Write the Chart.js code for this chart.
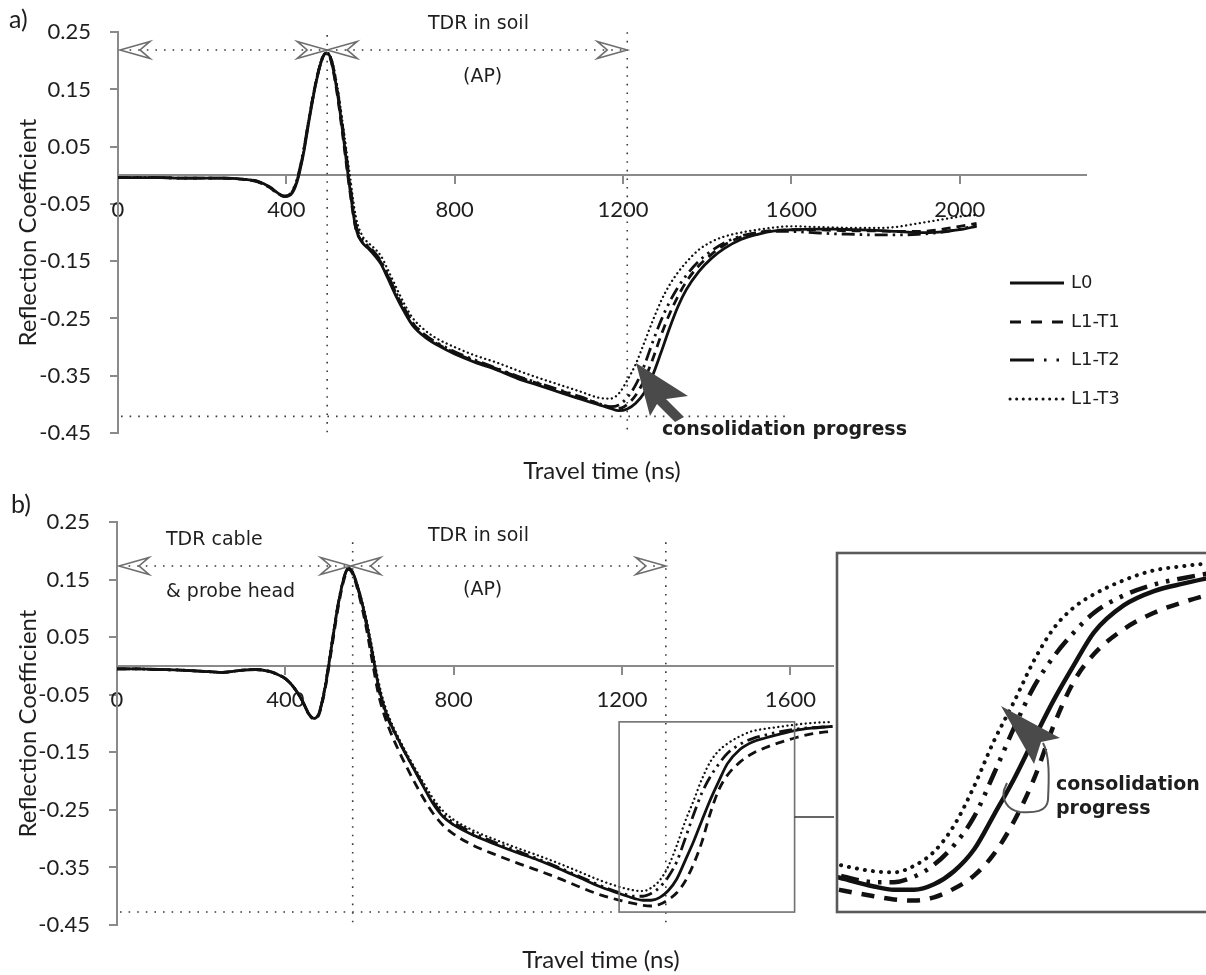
<!DOCTYPE html>
<html>
<head>
<meta charset="utf-8">
<script src="https://cdn.jsdelivr.net/npm/chart.js@4.4.1/dist/chart.umd.min.js"></script>
<style>
    html, body { margin: 0; padding: 0; background: #fff; overflow: hidden; }
    body { width: 1206px; height: 975px; position: relative; }
    canvas { position: absolute; }
    #chartA { left: 0; top: 0; }
    #chartB { left: 0; top: 490px; }
    #inset { left: 834px; top: 550px; }
</style>
</head>
<body>
<canvas id="chartA" width="1206" height="490"></canvas>
<canvas id="chartB" width="1206" height="485"></canvas>
<canvas id="inset" width="423" height="365"></canvas>
<script>
// ---- data ----
const seriesNames = ["L0", "L1-T1", "L1-T2", "L1-T3"];
const xTicks = [0, 400, 800, 1200, 1600, 2000];
const yTicks = [-0.45, -0.35, -0.25, -0.15, -0.05, 0.05, 0.15, 0.25];

// a) travel time (ns)
const timeA = [0, 50, 100, 150, 200, 250, 300, 330, 360, 380, 395, 410, 425, 440, 455, 470, 485,
    495, 505, 520, 535, 550, 565, 580, 595, 610, 625, 640, 660, 680, 700, 730, 760, 800, 850, 900, 950,
    1000, 1050, 1100, 1140, 1170, 1190, 1210, 1230, 1250, 1270, 1290, 1310, 1330, 1350, 1380, 1410, 1440,
    1480, 1520, 1560, 1600, 1650, 1700, 1750, 1800, 1850, 1900, 1950, 2000, 2040];
const l0A = [-0.004, -0.004, -0.004, -0.005, -0.005, -0.005, -0.007, -0.010, -0.020, -0.031,
    -0.037, -0.034, -0.012, 0.035, 0.100, 0.160, 0.203, 0.214, 0.205, 0.150,
    0.070, -0.018, -0.092, -0.117, -0.128, -0.140, -0.155, -0.178, -0.210, -0.238,
    -0.262, -0.283, -0.297, -0.312, -0.327, -0.340, -0.355, -0.367, -0.379, -0.391,
    -0.400, -0.407, -0.411, -0.408, -0.398, -0.380, -0.350, -0.310, -0.268, -0.230,
    -0.200, -0.168, -0.145, -0.128, -0.112, -0.103, -0.097, -0.095, -0.094, -0.094,
    -0.095, -0.096, -0.098, -0.100, -0.099, -0.095, -0.089];
const t1A = [-0.004, -0.004, -0.004, -0.005, -0.005, -0.005, -0.007, -0.010, -0.021, -0.032,
    -0.037, -0.033, -0.010, 0.038, 0.103, 0.162, 0.204, 0.213, 0.203, 0.146,
    0.064, -0.022, -0.093, -0.116, -0.126, -0.137, -0.152, -0.174, -0.205, -0.233,
    -0.258, -0.280, -0.295, -0.310, -0.325, -0.338, -0.352, -0.364, -0.376, -0.388,
    -0.398, -0.405, -0.407, -0.400, -0.384, -0.358, -0.322, -0.280, -0.243, -0.212,
    -0.186, -0.158, -0.138, -0.122, -0.108, -0.100, -0.096, -0.095, -0.095, -0.096,
    -0.097, -0.097, -0.098, -0.098, -0.095, -0.089, -0.084];
const t2A = [-0.004, -0.004, -0.004, -0.005, -0.005, -0.005, -0.007, -0.011, -0.021, -0.032,
    -0.036, -0.032, -0.008, 0.040, 0.104, 0.162, 0.203, 0.212, 0.206, 0.155,
    0.078, -0.008, -0.085, -0.112, -0.124, -0.135, -0.150, -0.172, -0.204, -0.232,
    -0.257, -0.279, -0.293, -0.308, -0.323, -0.337, -0.351, -0.363, -0.375, -0.387,
    -0.398, -0.404, -0.401, -0.388, -0.366, -0.333, -0.292, -0.254, -0.222, -0.196,
    -0.175, -0.150, -0.132, -0.118, -0.106, -0.100, -0.098, -0.098, -0.100, -0.102,
    -0.103, -0.104, -0.104, -0.103, -0.100, -0.094, -0.088];
const t3A = [-0.004, -0.004, -0.004, -0.005, -0.005, -0.005, -0.007, -0.010, -0.020, -0.031,
    -0.036, -0.032, -0.009, 0.040, 0.106, 0.165, 0.206, 0.214, 0.208, 0.160,
    0.085, 0.005, -0.072, -0.105, -0.118, -0.128, -0.141, -0.163, -0.194, -0.224,
    -0.249, -0.271, -0.286, -0.300, -0.315, -0.327, -0.341, -0.354, -0.366, -0.378,
    -0.388, -0.390, -0.381, -0.358, -0.330, -0.293, -0.255, -0.220, -0.192, -0.170,
    -0.152, -0.130, -0.116, -0.107, -0.100, -0.095, -0.091, -0.089, -0.090, -0.091,
    -0.092, -0.092, -0.090, -0.084, -0.078, -0.072, -0.069];

// b) travel time (ns)
const timeB = [0, 50, 100, 150, 200, 250, 300, 330, 360, 380, 400, 420, 440, 455, 468, 480, 495,
    510, 525, 540, 550, 560, 575, 590, 605, 620, 635, 650, 670, 690, 710, 730, 750, 775, 800, 850, 900,
    950, 1000, 1050, 1100, 1150, 1200, 1230, 1250, 1270, 1290, 1310, 1330, 1350, 1370, 1390, 1410, 1430,
    1450, 1480, 1510, 1540, 1570, 1610, 1650, 1700];
const l0B = [-0.005, -0.005, -0.006, -0.007, -0.009, -0.011, -0.007, -0.006, -0.009, -0.014,
    -0.022, -0.037, -0.060, -0.082, -0.091, -0.082, -0.035, 0.035, 0.105, 0.155,
    0.170, 0.163, 0.130, 0.085, 0.030, -0.030, -0.072, -0.100, -0.130, -0.158,
    -0.185, -0.212, -0.238, -0.262, -0.276, -0.295, -0.310, -0.324, -0.337, -0.352,
    -0.368, -0.384, -0.397, -0.404, -0.407, -0.407, -0.402, -0.390, -0.370, -0.338,
    -0.305, -0.268, -0.232, -0.200, -0.170, -0.145, -0.132, -0.125, -0.119, -0.112,
    -0.108, -0.105];
const t1B = [-0.005, -0.005, -0.006, -0.007, -0.009, -0.011, -0.007, -0.006, -0.009, -0.014,
    -0.022, -0.037, -0.060, -0.083, -0.092, -0.084, -0.038, 0.030, 0.100, 0.152,
    0.168, 0.160, 0.124, 0.075, 0.015, -0.045, -0.085, -0.115, -0.148, -0.178,
    -0.206, -0.232, -0.255, -0.277, -0.292, -0.313, -0.328, -0.342, -0.355, -0.369,
    -0.384, -0.398, -0.408, -0.413, -0.416, -0.417, -0.414, -0.406, -0.394, -0.374,
    -0.344, -0.305, -0.255, -0.215, -0.190, -0.167, -0.152, -0.142, -0.134, -0.125,
    -0.118, -0.113];
const t2B = [-0.005, -0.005, -0.006, -0.007, -0.009, -0.011, -0.007, -0.006, -0.009, -0.014,
    -0.022, -0.037, -0.060, -0.082, -0.091, -0.082, -0.033, 0.037, 0.106, 0.156,
    0.170, 0.162, 0.128, 0.082, 0.026, -0.034, -0.075, -0.102, -0.131, -0.158,
    -0.184, -0.210, -0.235, -0.258, -0.272, -0.291, -0.307, -0.321, -0.335, -0.350,
    -0.366, -0.382, -0.395, -0.400, -0.400, -0.395, -0.384, -0.366, -0.340, -0.300,
    -0.258, -0.220, -0.192, -0.170, -0.152, -0.136, -0.126, -0.120, -0.115, -0.110,
    -0.107, -0.105];
const t3B = [-0.005, -0.005, -0.006, -0.007, -0.009, -0.011, -0.007, -0.006, -0.009, -0.014,
    -0.022, -0.037, -0.060, -0.082, -0.091, -0.082, -0.030, 0.040, 0.108, 0.156,
    0.169, 0.163, 0.132, 0.090, 0.037, -0.022, -0.065, -0.095, -0.126, -0.154,
    -0.180, -0.205, -0.229, -0.252, -0.267, -0.287, -0.302, -0.316, -0.329, -0.343,
    -0.358, -0.373, -0.385, -0.390, -0.391, -0.385, -0.372, -0.348, -0.312, -0.270,
    -0.234, -0.196, -0.166, -0.147, -0.135, -0.122, -0.113, -0.109, -0.106, -0.102,
    -0.099, -0.097];

// zoom window shown in the inset (ns / coefficient)
const zoomT = [1193, 1610];
const zoomV = [-0.4275, -0.097];

// ---- styles ----
Chart.defaults.font.family = "DejaVu Sans";
const axisFont = "Lato";
const axisGray = "#8a8a8a";
const ink = "#1e1e1e";

const mainStyles = [
    { w: 2.8, dash: [], cap: "butt", legend: [] },
    { w: 2.8, dash: [9, 6], cap: "butt", legend: [11, 10] },
    { w: 2.8, dash: [13, 5, 2.5, 5, 2.5, 5], cap: "butt", legend: [24, 10, 2.5, 10, 2.5, 10] },
    { w: 2.3, dash: [0.1, 4.5], cap: "round", legend: [0.1, 6.5] }
];
const insetStyles = [
    { w: 4.5, dash: [], cap: "butt" },
    { w: 4.5, dash: [13, 10], cap: "butt" },
    { w: 4.5, dash: [18, 8, 3.5, 8, 3.5, 8], cap: "butt" },
    { w: 4, dash: [0.1, 8], cap: "round" }
];

function buildSets(times, list, styles) {
    return list.map((vals, i) => ({
        label: seriesNames[i],
        data: times.map((t, k) => ({ x: t, y: vals[k] })),
        borderColor: "#111",
        borderWidth: styles[i].w,
        borderDash: styles[i].dash,
        borderCapStyle: styles[i].cap,
        pointRadius: 0,
        fill: false,
        cubicInterpolationMode: "monotone"
    }));
}

function mainOptions(pad, yWidth, boxH, xTitlePad) {
    return {
        responsive: false,
        animation: false,
        devicePixelRatio: 1,
        layout: { padding: pad },
        plugins: { legend: { display: false }, tooltip: { enabled: false } },
        scales: {
            x: {
                type: "linear", position: { y: 0 }, min: 0, max: 2300,
                afterFit: s => { s.height = 0; },
                afterBuildTicks: s => { s.ticks = xTicks.map(v => ({ value: v })); },
                grid: { drawOnChartArea: false, tickLength: 8, color: axisGray, lineWidth: 2 },
                border: { color: axisGray, width: 2 },
                ticks: { padding: 13, color: ink, font: { family: axisFont, size: 22 },
                    maxRotation: 0, autoSkip: false, callback: v => String(v) }
            },
            xt: {
                type: "linear", position: "bottom", min: 0, max: 2300,
                afterFit: s => { s.height = boxH; },
                ticks: { display: false }, grid: { display: false }, border: { display: false },
                title: { display: true, text: "Travel time (ns)", color: ink,
                    font: { family: axisFont, size: 24 }, padding: { top: 0, bottom: xTitlePad } }
            },
            y: {
                type: "linear", min: -0.45, max: 0.25,
                afterFit: s => { s.width = yWidth; },
                afterBuildTicks: s => { s.ticks = yTicks.map(v => ({ value: v })); },
                grid: { drawOnChartArea: false, tickLength: 8, color: axisGray, lineWidth: 2 },
                border: { color: axisGray, width: 2 },
                ticks: { padding: 19, color: ink, font: { family: axisFont, size: 22 }, callback: v => v.toFixed(2) },
                title: { display: true, text: "Reflection Coefficient", color: ink,
                    font: { family: axisFont, size: 24 }, padding: { top: 14, bottom: 0 } }
            }
        }
    };
}

// ---- drawing helpers for the annotations ----
function dotted(ctx, x1, y1, x2, y2) {
    ctx.save();
    ctx.strokeStyle = "#3a3a3a";
    ctx.lineWidth = 1.6;
    ctx.setLineDash([1.6, 7]);
    ctx.beginPath(); ctx.moveTo(x1, y1); ctx.lineTo(x2, y2); ctx.stroke();
    ctx.restore();
}

function head(ctx, tx, ty, dir) {
    ctx.save();
    ctx.strokeStyle = "#6e6e6e";
    ctx.lineWidth = 1.6;
    ctx.beginPath();
    ctx.moveTo(tx, ty);
    ctx.lineTo(tx - dir * 30, ty - 8.5);
    ctx.lineTo(tx - dir * 20, ty);
    ctx.lineTo(tx - dir * 30, ty + 8.5);
    ctx.closePath();
    ctx.stroke();
    ctx.restore();
}

function label(ctx, text, x, y, size, bold, family) {
    ctx.save();
    ctx.fillStyle = ink;
    ctx.font = (bold ? "bold " : "") + size + 'px "' + (family || "DejaVu Sans") + '"';
    ctx.textAlign = "left";
    ctx.textBaseline = bold ? "alphabetic" : "middle";
    ctx.fillText(text, x, y);
    ctx.restore();
}

function poly(ctx, pts, color) {
    ctx.save();
    ctx.fillStyle = color;
    ctx.beginPath();
    pts.forEach((p, i) => i ? ctx.lineTo(p[0], p[1]) : ctx.moveTo(p[0], p[1]));
    ctx.closePath();
    ctx.fill();
    ctx.restore();
}

// span markers: arrows start / peak / end in ns, level in coefficient
const spanA = { peak: 497, end: 1210, level: 0.219, top: 0.245, floor: -0.421, floorEnd: 1590 };
const spanB = { peak: 555, line: 560, end: 1304, level: 0.174, top: 0.215, floor: -0.4275 };

const notesA = {
    id: "notesA",
    afterDraw(chart) {
        const { ctx } = chart;
        const X = v => chart.scales.x.getPixelForValue(v);
        const Y = v => chart.scales.y.getPixelForValue(v);
        const lv = Y(spanA.level);
        dotted(ctx, X(0) + 3, lv, X(spanA.end), lv);
        dotted(ctx, X(spanA.peak), Y(spanA.top), X(spanA.peak), Y(-0.45));
        dotted(ctx, X(spanA.end), Y(0.25), X(spanA.end), Y(-0.45));
        dotted(ctx, X(0) + 3, Y(spanA.floor), X(spanA.floorEnd), Y(spanA.floor));
        head(ctx, X(0) + 2, lv, -1);
        head(ctx, X(spanA.peak), lv, 1);
        head(ctx, X(spanA.peak), lv, -1);
        head(ctx, X(spanA.end), lv, 1);

        label(ctx, "a)", 9, 20, 25, false, axisFont);
        label(ctx, "TDR in soil", 428, 24, 19);
        label(ctx, "(AP)", 463, 77, 19);

        // arrow "consolidation progress"
        poly(ctx, [[636, 363], [688, 396], [666, 399], [684, 417], [675, 422], [657, 404], [650, 416]], "#4a4a4a");
        label(ctx, "consolidation progress", 662, 435, 19, true);

        // legend
        const rows = [283, 322, 360, 399];
        chart.data.datasets.forEach((ds, i) => {
            ctx.save();
            ctx.strokeStyle = "#111";
            ctx.lineWidth = 3;
            ctx.lineCap = mainStyles[i].cap;
            ctx.setLineDash(mainStyles[i].legend);
            ctx.beginPath(); ctx.moveTo(1010, rows[i]); ctx.lineTo(1064, rows[i]); ctx.stroke();
            ctx.restore();
            label(ctx, ds.label, 1071, rows[i], 18);
        });
    }
};

const notesB = {
    id: "notesB",
    afterDraw(chart) {
        const { ctx } = chart;
        const X = v => chart.scales.x.getPixelForValue(v);
        const Y = v => chart.scales.y.getPixelForValue(v);
        const lv = Y(spanB.level);
        dotted(ctx, X(0) + 3, lv, X(spanB.end), lv);
        dotted(ctx, X(spanB.line), Y(spanB.top), X(spanB.line), Y(-0.45));
        dotted(ctx, X(spanB.end), Y(spanB.top), X(spanB.end), Y(-0.45));
        dotted(ctx, X(0) + 3, Y(spanB.floor), X(zoomT[0]), Y(spanB.floor));
        head(ctx, X(0) + 2, lv, -1);
        head(ctx, X(spanB.peak), lv, 1);
        head(ctx, X(spanB.peak), lv, -1);
        head(ctx, X(spanB.end), lv, 1);

        label(ctx, "b)", 11, 15, 25, false, axisFont);
        label(ctx, "TDR cable", 166, 50, 19);
        label(ctx, "& probe head", 166, 102, 19);
        label(ctx, "TDR in soil", 428, 46, 19);
        label(ctx, "(AP)", 463, 100, 19);

        // zoom window and its connector to the inset
        const x1 = X(zoomT[0]), x2 = X(zoomT[1]);
        const y1 = Y(zoomV[1]), y2 = Y(zoomV[0]);
        ctx.save();
        ctx.strokeStyle = "#707070";
        ctx.lineWidth = 1.6;
        ctx.strokeRect(x1, y1, x2 - x1, y2 - y1);
        ctx.strokeStyle = "#333";
        ctx.beginPath();
        ctx.moveTo(x2, (y1 + y2) / 2);
        ctx.lineTo(840, (y1 + y2) / 2);
        ctx.stroke();
        ctx.restore();
    }
};

const notesInset = {
    id: "notesInset",
    beforeDraw(chart) {
        const { ctx } = chart;
        ctx.save();
        ctx.fillStyle = "#fff";
        ctx.fillRect(0, 0, chart.width, chart.height);
        ctx.restore();
    },
    afterDraw(chart) {
        const { ctx, chartArea: a } = chart;
        ctx.save();
        ctx.strokeStyle = "#5a5a5a";
        ctx.lineWidth = 2.6;
        ctx.strokeRect(a.left, a.top, a.right - a.left, a.bottom - a.top);

        poly(ctx, [[167, 156], [226, 188], [207, 192], [200, 214]], "#4a4a4a");

        ctx.strokeStyle = "#555";
        ctx.lineWidth = 2;
        ctx.beginPath();
        ctx.moveTo(209, 193);
        ctx.bezierCurveTo(216, 205, 215, 230, 214, 250);
        ctx.bezierCurveTo(213, 262, 200, 263, 186, 262);
        ctx.bezierCurveTo(172, 260, 168, 248, 170, 240);
        ctx.lineTo(173, 233);
        ctx.stroke();
        ctx.restore();

        label(ctx, "consolidation", 222, 240, 19, true);
        label(ctx, "progress", 222, 264, 19, true);
    }
};

new Chart(document.getElementById("chartA"), {
    type: "line",
    data: { datasets: buildSets(timeA, [l0A, t1A, t2A, t3A], mainStyles) },
    options: mainOptions({ left: 0, top: 20, right: 120, bottom: 0 }, 118, 57, 4),
    plugins: [notesA]
});

new Chart(document.getElementById("chartB"), {
    type: "line",
    data: { datasets: buildSets(timeB, [l0B, t1B, t2B, t3B], mainStyles) },
    options: mainOptions({ left: 0, top: 22, right: 121, bottom: 0 }, 117, 50, 0),
    plugins: [notesB]
});

new Chart(document.getElementById("inset"), {
    type: "line",
    data: { datasets: buildSets(timeB, [l0B, t1B, t2B, t3B], insetStyles) },
    options: {
        responsive: false,
        animation: false,
        devicePixelRatio: 1,
        layout: { padding: 3 },
        plugins: { legend: { display: false }, tooltip: { enabled: false } },
        scales: {
            x: { type: "linear", display: false, min: zoomT[0], max: zoomT[1] },
            y: { type: "linear", display: false, min: zoomV[0], max: zoomV[1] }
        }
    },
    plugins: [notesInset]
});
</script>
</body>
</html>
